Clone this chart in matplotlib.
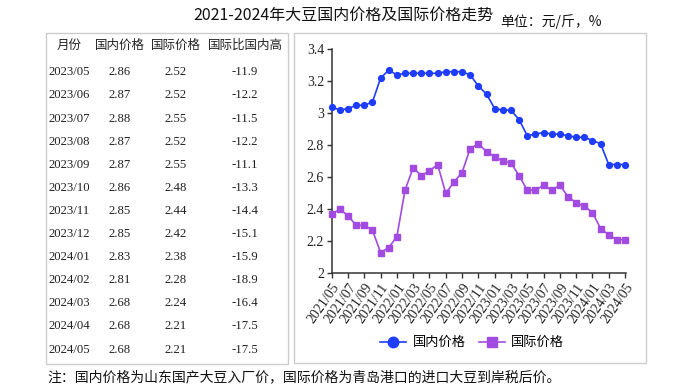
import matplotlib
matplotlib.use("Agg")
import matplotlib.pyplot as plt
from matplotlib.patches import Rectangle

months = ["2021/05","2021/06","2021/07","2021/08","2021/09","2021/10","2021/11","2021/12",
          "2022/01","2022/02","2022/03","2022/04","2022/05","2022/06","2022/07","2022/08",
          "2022/09","2022/10","2022/11","2022/12","2023/01","2023/02","2023/03","2023/04",
          "2023/05","2023/06","2023/07","2023/08","2023/09","2023/10","2023/11","2023/12",
          "2024/01","2024/02","2024/03","2024/04","2024/05"]
domestic = [3.04,3.02,3.03,3.05,3.05,3.07,3.22,3.27,3.24,3.25,3.25,3.25,3.25,3.25,3.26,3.26,
            3.26,3.24,3.17,3.12,3.03,3.02,3.02,2.96,2.86,2.87,2.88,2.87,2.87,2.86,2.85,2.85,
            2.83,2.81,2.68,2.68,2.68]
international = [2.37,2.40,2.36,2.30,2.30,2.27,2.13,2.16,2.23,2.52,2.66,2.61,2.64,2.68,2.50,2.57,
                 2.63,2.78,2.81,2.76,2.73,2.70,2.69,2.61,2.52,2.52,2.55,2.52,2.55,2.48,2.44,2.42,
                 2.38,2.28,2.24,2.21,2.21]
diff_pct = ["-11.9","-12.2","-11.5","-12.2","-11.1","-13.3","-14.4","-15.1","-15.9","-18.9",
            "-16.4","-17.5","-17.5"]
headers = ["月份","国内价格","国际价格","国际比国内高"]
yticks = [2.0,2.2,2.4,2.6,2.8,3.0,3.2,3.4]

W, H = 685, 389
fig = plt.figure(figsize=(W/100, H/100), dpi=100)

def P(x, y):
    return (x / W, 1 - y / H)

CJK = ["Noto Sans CJK SC", "DejaVu Sans"]
SERIF = ["Liberation Serif", "Noto Sans CJK SC"]
txt = "#222222"

# boxes
for (x0, y0, x1, y1) in [(46, 33, 288, 364), (294, 33, 646, 363)]:
    fig.patches.append(Rectangle(P(x0, y1), (x1-x0)/W, (y1-y0)/H, transform=fig.transFigure,
                                 fill=False, edgecolor="#cccccc", lw=1.0))

# title
fig.text(*P(343, 15), "2021-2024年大豆国内价格及国际价格走势", ha="center", va="center",
         fontsize=11.5, family=CJK, color="#111111")
fig.text(*P(500, 22), "单位：元/斤，%", ha="left", va="center", fontsize=10, family=CJK, color="#111111")

# table
colx = [69, 120, 175.5, 245]
for cx, h in zip(colx, headers):
    fig.text(*P(cx, 45), h, ha="center", va="center", fontsize=9, family=CJK, color=txt)
n = len(diff_pct)
start = len(months) - n
for i in range(n):
    y = 72.3 + 23.1 * i
    row = [months[start+i], f"{domestic[start+i]:.2f}", f"{international[start+i]:.2f}", diff_pct[i]]
    for cx, v in zip(colx, row):
        fig.text(*P(cx, y), v, ha="center", va="center", fontsize=9.2, family=SERIF, color=txt)

# chart
ax = fig.add_axes([331.7/W, 1 - 273.3/H, (626-331.7)/W, (273.3-49.3)/H])
x = list(range(len(months)))
ax.plot(x, domestic, color="#1f3dff", lw=1.2, marker="o", ms=4.2, clip_on=False, label="国内价格", zorder=3)
ax.plot(x, international, color="#a24be0", lw=1.2, marker="s", ms=4.0, clip_on=False, label="国际价格", zorder=3)
ax.set_xlim(0, 36.12)
ax.set_ylim(2.0, 3.4)
ax.set_yticks(yticks)
ax.set_yticklabels([f"{v:g}" for v in yticks])
ax.set_xticks(x[::2])
ax.set_xticklabels(months[::2], rotation=55, ha="right", rotation_mode="anchor")
for s in ["top", "right"]:
    ax.spines[s].set_visible(False)
for s in ["left", "bottom"]:
    ax.spines[s].set_color("#333333")
    ax.spines[s].set_linewidth(1.1)
ax.tick_params(axis="both", direction="out", length=3.5, width=1.0, color="#333333",
               labelcolor="#222222", pad=2)
for lab in ax.get_xticklabels() + ax.get_yticklabels():
    lab.set_fontfamily(SERIF)
    lab.set_fontsize(10)
ax.patch.set_alpha(0)

leg = fig.legend(loc="center", bbox_to_anchor=P(472, 342.7), ncol=2, frameon=False,
                 markerscale=1.8, handlelength=2.0, handletextpad=0.45, columnspacing=1.0,
                 prop={"family": CJK, "size": 9.5})

fig.text(*P(47, 377), "注：国内价格为山东国产大豆入厂价，国际价格为青岛港口的进口大豆到岸税后价。",
         ha="left", va="center", fontsize=10, family=CJK, color="#111111")

fig.savefig("out.png", dpi=100)
